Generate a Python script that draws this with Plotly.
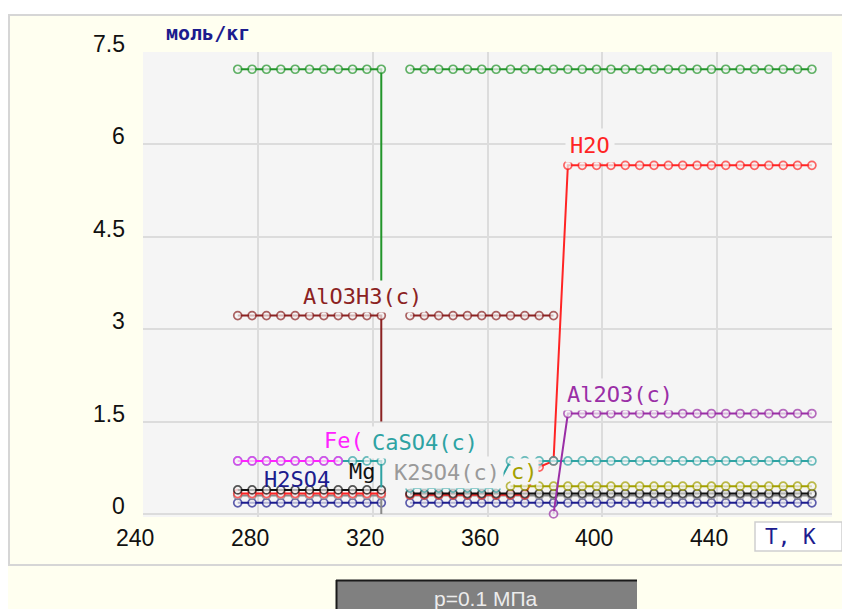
import plotly.graph_objects as go

# ---------------- data ----------------
T_LEFT = [273, 278, 283, 288, 293, 298, 303, 308, 313, 318, 323]
T_DIP = 323
T_RIGHT = [333, 338, 343, 348, 353, 358, 363, 368, 373, 378, 383, 388, 393, 398, 403,
           408, 413, 418, 423, 428, 433, 438, 443, 448, 453, 458, 463, 468, 473]

N = None
SIO2_L = [7.22, 7.22, 7.22, 7.22, 7.22, 7.22, 7.22, 7.22, 7.22, 7.22, 7.22]
SIO2_DIP = 3.55
SIO2_R = [7.22, 7.22, 7.22, 7.22, 7.22, 7.22, 7.22, 7.22, 7.22, 7.22, 7.22, 7.22, 7.22, 7.22, 7.22,
          7.22, 7.22, 7.22, 7.22, 7.22, 7.22, 7.22, 7.22, 7.22, 7.22, 7.22, 7.22, 7.22, 7.22]

H2O_L = [0.33, 0.33, 0.33, 0.33, 0.33, 0.33, 0.33, 0.33, 0.33, 0.33, 0.33]
H2O_DIP = None
H2O_R = [0.31, 0.31, 0.31, 0.31, 0.31, 0.31, 0.31, 0.31, 0.31, 0.76, 0.86, 5.66, 5.66, 5.66, 5.66,
         5.66, 5.66, 5.66, 5.66, 5.66, 5.66, 5.66, 5.66, 5.66, 5.66, 5.66, 5.66, 5.66, 5.66]

ALOH_L = [3.22, 3.22, 3.22, 3.22, 3.22, 3.22, 3.22, 3.22, 3.22, 3.22, 3.22]
ALOH_DIP = 1.5
ALOH_R = [3.22, 3.22, 3.22, 3.22, 3.22, 3.22, 3.22, 3.22, 3.22, 3.22, 3.22, N, N, N, N,
          N, N, N, N, N, N, N, N, N, N, N, N, N, N]
ALOH_END_T = 383
ALOH_END = 0.0

AL2O3_L = [N, N, N, N, N, N, N, N, N, N, N]
AL2O3_DIP = None
AL2O3_R = [N, N, N, N, N, N, N, N, N, N, 0.0, 1.63, 1.63, 1.63, 1.63,
           1.63, 1.63, 1.63, 1.63, 1.63, 1.63, 1.63, 1.63, 1.63, 1.63, 1.63, 1.63, 1.63, 1.63]

FE_L = [0.86, 0.86, 0.86, 0.86, 0.86, 0.86, 0.86, 0.86, N, N, N]
FE_DIP = None
FE_R = [N, N, N, N, N, N, N, N, N, N, N, N, N, N, N,
        N, N, N, N, N, N, N, N, N, N, N, N, N, N]

CASO4_L = [0.86, 0.86, 0.86, 0.86, 0.86, 0.86, 0.86, 0.86, 0.86, 0.86, 0.86]
CASO4_DIP = 0.43
CASO4_R = [0.42, 0.42, 0.42, 0.42, 0.42, 0.42, 0.42, 0.86, 0.86, 0.86, 0.86, 0.86, 0.86, 0.86, 0.86,
           0.86, 0.86, 0.86, 0.86, 0.86, 0.86, 0.86, 0.86, 0.86, 0.86, 0.86, 0.86, 0.86, 0.86]

MG_L = [0.39, 0.39, 0.39, 0.39, 0.39, 0.39, 0.39, 0.39, 0.39, 0.39, 0.39]
MG_DIP = None
MG_R = [0.33, 0.33, 0.33, 0.33, 0.33, 0.33, 0.33, 0.33, 0.33, 0.33, 0.33, 0.33, 0.33, 0.33, 0.33,
        0.33, 0.33, 0.33, 0.33, 0.33, 0.33, 0.33, 0.33, 0.33, 0.33, 0.33, 0.33, 0.33, 0.33]

K2SO4_L = [0.30, 0.30, 0.30, 0.30, 0.30, 0.30, 0.30, 0.30, 0.30, 0.30, 0.30]
K2SO4_DIP = 0.0
K2SO4_R = [0.30, 0.30, 0.30, 0.30, 0.30, 0.30, 0.30, 0.30, 0.30, 0.30, 0.30, 0.30, 0.30, 0.30, 0.30,
           0.30, 0.30, 0.30, 0.30, 0.30, 0.30, 0.30, 0.30, 0.30, 0.30, 0.30, 0.30, 0.30, 0.30]

H2SO4_L = [0.18, 0.18, 0.18, 0.18, 0.18, 0.18, 0.18, 0.18, 0.18, 0.18, 0.18]
H2SO4_DIP = None
H2SO4_R = [0.18, 0.18, 0.18, 0.18, 0.18, 0.18, 0.18, 0.18, 0.18, 0.18, 0.18, 0.18, 0.18, 0.18, 0.18,
           0.18, 0.18, 0.18, 0.18, 0.18, 0.18, 0.18, 0.18, 0.18, 0.18, 0.18, 0.18, 0.18, 0.18]

OLIVE_L = [N, N, N, N, N, N, N, N, N, N, N]
OLIVE_DIP = None
OLIVE_R = [N, N, N, N, N, N, N, 0.45, 0.45, 0.45, 0.45, 0.45, 0.45, 0.45, 0.45,
           0.45, 0.45, 0.45, 0.45, 0.45, 0.45, 0.45, 0.45, 0.45, 0.45, 0.45, 0.45, 0.45, 0.45]

X_TICKS = [240, 280, 320, 360, 400, 440]
X_TICKTEXT = ["240", "280", "320", "360", "400", "440"]
Y_TICKS = [0, 1.5, 3, 4.5, 6, 7.5]
Y_TICKTEXT = ["0", "1.5", "3", "4.5", "6", "7.5"]

# ---------------- geometry (reference-page pixels) ----------------
OFF = 8                      # page body margin
PAGE_W, PAGE_H = 850, 609
W, H = PAGE_W - OFF, PAGE_H - OFF
PL, PR, PT, PB = 143, 832, 52, 517
XR = [240, 480]
YR = [-0.05, 7.5]


def fx(px):
    return (px - PL) / (PR - PL)


def fy(py):
    return (PB - py) / (PB - PT)


def dx(px):
    return XR[0] + (px - PL) * (XR[1] - XR[0]) / (PR - PL)


def dy(py):
    return YR[0] + (PB - py) * (YR[1] - YR[0]) / (PB - PT)


PLOT_BG = "#f5f5f5"
IVORY = "#fffff0"

fig = go.Figure()


def add_series(left, dip, right, color, end=None):
    xs, ys, sz = [], [], []
    for t, v in zip(T_LEFT, left):
        xs.append(t); ys.append(v); sz.append(8)
    if dip is not None:
        xs.append(T_DIP); ys.append(dip); sz.append(0)
    xs.append(None); ys.append(None); sz.append(0)
    for t, v in zip(T_RIGHT, right):
        xs.append(t); ys.append(v); sz.append(8)
    if end is not None:
        xs.append(end[0]); ys.append(end[1]); sz.append(0)
    fig.add_trace(go.Scatter(
        x=xs, y=ys, mode="lines+markers", connectgaps=False, cliponaxis=False,
        line=dict(color=color, width=2),
        marker=dict(symbol="circle", size=sz, color=PLOT_BG,
                    line=dict(color=color, width=1.7)),
        hoverinfo="skip", showlegend=False))


C_SIO2 = "#22952a"
C_H2O = "#ff2424"
C_ALOH = "#8b2222"
C_AL2O3 = "#9a2ea6"
C_FE = "#ff22ff"
C_CASO4 = "#2ea3a3"
C_MG = "#111111"
C_K2SO4 = "#9a9a9a"
C_H2SO4 = "#1c1c8e"
C_OLIVE = "#a3a000"

add_series(H2SO4_L, H2SO4_DIP, H2SO4_R, C_H2SO4)
add_series(K2SO4_L, K2SO4_DIP, K2SO4_R, "#8a8a8a")
add_series(H2O_L, H2O_DIP, H2O_R, C_H2O)
add_series(MG_L, MG_DIP, MG_R, C_MG)
add_series(OLIVE_L, OLIVE_DIP, OLIVE_R, C_OLIVE)
add_series(CASO4_L, CASO4_DIP, CASO4_R, C_CASO4)
add_series(FE_L, FE_DIP, FE_R, C_FE)
add_series(AL2O3_L, AL2O3_DIP, AL2O3_R, C_AL2O3)
add_series(ALOH_L, ALOH_DIP, ALOH_R, C_ALOH, end=(ALOH_END_T, ALOH_END))
add_series(SIO2_L, SIO2_DIP, SIO2_R, C_SIO2)

MONO = "DejaVu Sans Mono, monospace"
TICKFONT = "Liberation Sans Narrow, Liberation Sans, Arial, sans-serif"

annotations = []


def label(text, cx, cy, color, bg=PLOT_BG, size=22, pad=2):
    annotations.append(dict(
        text=text, x=dx(cx), y=dy(cy), xref="x", yref="y",
        xanchor="center", yanchor="middle", showarrow=False,
        font=dict(family=MONO, size=size, color=color),
        bgcolor=bg, borderpad=pad))


label("SiO2(c)", 325, 50, C_SIO2, bg="rgba(0,0,0,0)")
label("H2O", 590, 145, C_H2O, pad=4)
label("AlO3H3(c)", 362, 296, C_ALOH, pad=3)
label("Al2O3(c)", 620, 394, C_AL2O3, pad=3)
label("Fe(", 344, 440, C_FE)
label("CaSO4(c)", 425, 442, C_CASO4, pad=3)
label("H2SO4", 297, 479, C_H2SO4, bg="rgba(0,0,0,0)")
label("Mg", 362, 471, C_MG, bg="rgba(0,0,0,0)")
label("c)", 524, 471, C_OLIVE, pad=0)
label("K2SO4(c)", 447, 472, C_K2SO4, pad=3)

# axis tick labels, placed on the axes' own scales
for v, t in zip(X_TICKS, X_TICKTEXT):
    annotations.append(dict(
        text=t, x=v, xref="x", y=fy(538), yref="paper", xshift=-8,
        xanchor="center", yanchor="middle", showarrow=False,
        font=dict(family=TICKFONT, size=23, color="#111111")))
for v, t in zip(Y_TICKS, Y_TICKTEXT):
    annotations.append(dict(
        text=t, x=fx(127), xref="paper", y=v, yref="y", yshift=8,
        xanchor="right", yanchor="middle", showarrow=False,
        font=dict(family=TICKFONT, size=23, color="#111111")))

# unit label
annotations.append(dict(
    text="<b>моль/кг</b>", x=fx(208), y=fy(33), xref="paper", yref="paper",
    xanchor="center", yanchor="middle", showarrow=False,
    font=dict(family=MONO, size=20, color="#1c1c8e")))
# axis title box
annotations.append(dict(
    text="T, K", x=fx(790), y=fy(537), xref="paper", yref="paper",
    xanchor="center", yanchor="middle", showarrow=False,
    font=dict(family=MONO, size=21, color="#1c1c8e")))
# pressure button text
annotations.append(dict(
    text="p=0.1 МПа", x=fx(486), y=fy(598), xref="paper", yref="paper",
    xanchor="center", yanchor="middle", showarrow=False,
    font=dict(family=TICKFONT, size=21, color="#ececec")))

BORDER = "#d6d6d6"
shapes = [
    dict(type="rect", xref="paper", yref="paper", x0=fx(0), x1=fx(850), y0=fy(0), y1=fy(14),
         fillcolor="white", line=dict(width=0), layer="below"),
    dict(type="line", xref="paper", yref="paper", x0=fx(8), x1=fx(850), y0=fy(15), y1=fy(15),
         line=dict(color=BORDER, width=2), layer="below"),
    dict(type="line", xref="paper", yref="paper", x0=fx(9), x1=fx(9), y0=fy(15), y1=fy(565),
         line=dict(color=BORDER, width=2), layer="below"),
    dict(type="line", xref="paper", yref="paper", x0=fx(8), x1=fx(850), y0=fy(565), y1=fy(565),
         line=dict(color=BORDER, width=2), layer="below"),
    # T, K box
    dict(type="rect", xref="paper", yref="paper", x0=fx(755), x1=fx(842), y0=fy(522), y1=fy(551),
         fillcolor="white", line=dict(color="#cfcfcf", width=1.5)),
    # button
    dict(type="rect", xref="paper", yref="paper", x0=fx(336), x1=fx(637), y0=fy(580), y1=fy(615),
         fillcolor="#808080", line=dict(width=0)),
    dict(type="line", xref="paper", yref="paper", x0=fx(336), x1=fx(637), y0=fy(580.5), y1=fy(580.5),
         line=dict(color="#1a1a1a", width=2)),
    dict(type="line", xref="paper", yref="paper", x0=fx(336.5), x1=fx(336.5), y0=fy(580), y1=fy(615),
         line=dict(color="#1a1a1a", width=2)),
]

fig.update_layout(
    width=W, height=H,
    margin=dict(l=PL - OFF, r=PAGE_W - PR, t=PT - OFF, b=PAGE_H - PB, pad=0),
    paper_bgcolor=IVORY, plot_bgcolor=PLOT_BG,
    showlegend=False,
    annotations=annotations, shapes=shapes,
    xaxis=dict(range=XR, tickvals=X_TICKS, showticklabels=False,
               showgrid=True, gridcolor="#dcdcdc", gridwidth=2, zeroline=False,
               showline=False, ticks="", fixedrange=True),
    yaxis=dict(range=YR, tickvals=Y_TICKS, showticklabels=False,
               showgrid=True, gridcolor="#dcdcdc", gridwidth=2, zeroline=False,
               showline=False, ticks="", fixedrange=True),
)

fig.write_html("out.html")
